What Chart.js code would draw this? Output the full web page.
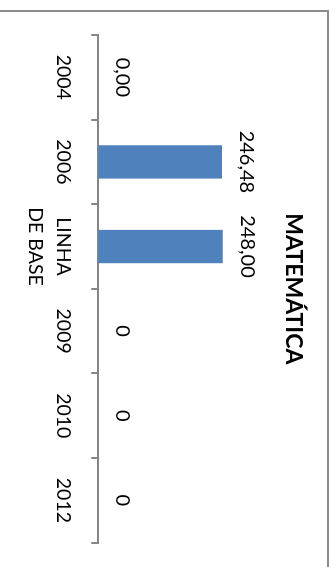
<!DOCTYPE html>
<html>
<head>
<meta charset="utf-8">
<script src="https://cdn.jsdelivr.net/npm/chart.js@4.4.1/dist/chart.umd.min.js"></script>
<style>
  html, body { margin: 0; padding: 0; background: #fff; overflow: hidden; }
  body { width: 336px; height: 567px; position: relative; }
  /* chart is laid out upright, then turned a quarter turn clockwise */
  #wrap {
    position: absolute; left: 0; top: 0;
    width: 580px; height: 360px;
    transform-origin: 0 0;
    transform: translate(329px, 10px) rotate(90deg);
  }
</style>
</head>
<body>
<div id="wrap"><canvas id="mathChart" width="580" height="360"></canvas></div>
<script>
const years = ["2004", "2006", ["LINHA", "DE BASE"], "2009", "2010", "2012"];
const scores = [0, 246.48, 248.0, 0, 0, 0];
const decimals = [2, 2, 2, 0, 0, 0];
const scoreMax = 300;

const FONT = "Lato, 'Liberation Sans', sans-serif";
const AXIS_GRAY = "#868686";

const ctx = document.getElementById("mathChart");

const fmt = (v, d) => v.toFixed(d).replace(".", ",");

// outer frame of the chart area
const framePlugin = {
  id: "frame",
  beforeDraw(chart) {
    const c = chart.ctx;
    c.save();
    c.fillStyle = "#fff";
    c.fillRect(0, 0, chart.width, chart.height);
    c.strokeStyle = "#8c8c8c";
    c.lineWidth = 2;
    c.strokeRect(1, 1, chart.width - 2, chart.height - 2);
    c.restore();
  },
};

// value printed above each bar
const valueLabels = {
  id: "valueLabels",
  afterDatasetsDraw(chart) {
    const c = chart.ctx;
    const meta = chart.getDatasetMeta(0);
    c.save();
    c.font = "20px " + FONT;
    c.fillStyle = "#000";
    c.textAlign = "center";
    c.textBaseline = "middle";
    meta.data.forEach((bar, i) => {
      c.fillText(fmt(scores[i], decimals[i]), bar.x, bar.y - 24.5);
    });
    c.restore();
  },
};

new Chart(ctx, {
  type: "bar",
  data: {
    labels: years,
    datasets: [
      {
        label: "MATEMÁTICA",
        data: scores,
        backgroundColor: "#4F81BD",
        borderWidth: 0,
        categoryPercentage: 1,
        barPercentage: 0.394,
      },
    ],
  },
  options: {
    responsive: false,
    animation: false,
    devicePixelRatio: 1,
    layout: { padding: { left: 25, right: 47.3, top: 0, bottom: 0 } },
    scales: {
      x: {
        offset: true,
        grid: {
          offset: true,
          drawOnChartArea: false,
          drawTicks: true,
          tickLength: 7,
          color: AXIS_GRAY,
          lineWidth: 2,
        },
        border: { color: AXIS_GRAY, width: 2 },
        ticks: {
          color: "#000",
          font: { family: FONT, size: 19.5, lineHeight: "28px" },
          padding: 13.8,
          maxRotation: 0,
          minRotation: 0,
          autoSkip: false,
        },
        afterFit(scale) {
          scale.height = 360 - 230.7;
        },
      },
      y: { display: false, min: 0, max: scoreMax },
    },
    plugins: {
      legend: { display: false },
      tooltip: { enabled: false },
      title: {
        display: true,
        text: "MATEMÁTICA",
        color: "#000",
        font: { family: FONT, size: 23, weight: "bold", lineHeight: 1.2 },
        padding: { top: 21.9, bottom: 30.7 },
      },
    },
  },
  plugins: [framePlugin, valueLabels],
});
</script>
</body>
</html>
